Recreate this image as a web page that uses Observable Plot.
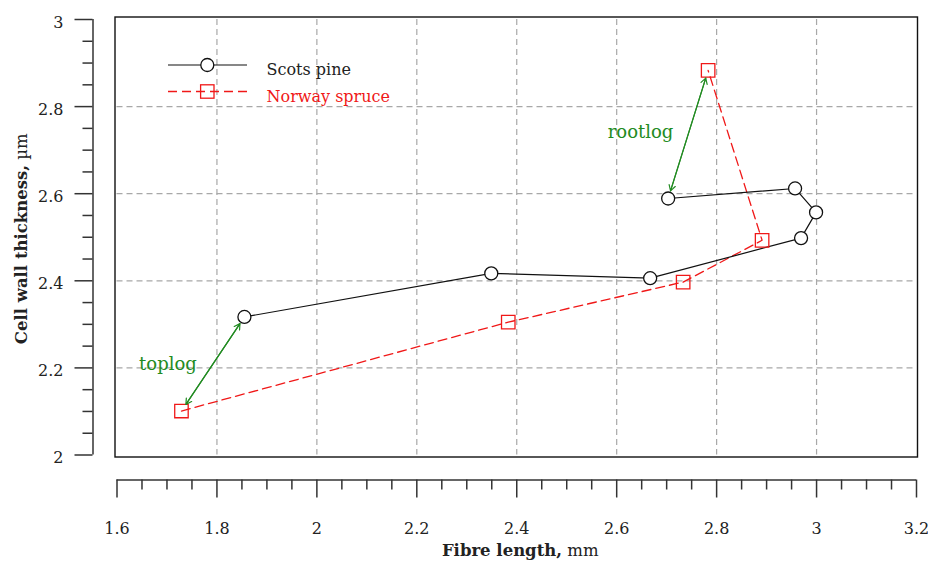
<!DOCTYPE html>
<html><head><meta charset="utf-8">
<script src="https://cdn.jsdelivr.net/npm/d3@7"></script>
<script src="https://cdn.jsdelivr.net/npm/@observablehq/plot@0.6"></script>
<style>body{margin:0;background:#fff}</style>
</head><body><div id="chart"></div>
<script>
// Data
const seriesNames = ["Scots pine", "Norway spruce"];
const pineX = [1.855, 2.349, 2.667, 2.969, 2.999, 2.957, 2.703];
const pineY = [2.317, 2.417, 2.406, 2.498, 2.557, 2.612, 2.589];
const spruceX = [1.729, 2.383, 2.733, 2.891, 2.783];
const spruceY = [2.101, 2.305, 2.397, 2.493, 2.883];
const annotationNames = ["toplog", "rootlog"];
const xTicks = [1.6, 1.8, 2, 2.2, 2.4, 2.6, 2.8, 3, 3.2];
const yTicks = [2, 2.2, 2.4, 2.6, 2.8, 3];
const xGrid = [1.8, 2, 2.2, 2.4, 2.6, 2.8, 3];
const yGrid = [2.2, 2.4, 2.6, 2.8];
const xMinor = d3.range(33).filter(i => i % 4 !== 0).map(i => 1.6 + i * 0.05);
const yMinor = d3.range(21).filter(i => i % 4 !== 0).map(i => 2 + i * 0.05);
const xTitle = ["Fibre length,", " mm"];
const yTitle = ["Cell wall thickness,", " µm"];

const pine = pineX.map((x, i) => ({x, y: pineY[i]}));
const spruce = spruceX.map((x, i) => ({x, y: spruceY[i]}));
const arrows = [
  {name: annotationNames[0], x1: spruceX[0], y1: spruceY[0], x2: pineX[0], y2: pineY[0]},
  {name: annotationNames[1], x1: spruceX[spruceX.length - 1], y1: spruceY[spruceY.length - 1], x2: pineX[pineX.length - 1], y2: pineY[pineY.length - 1]}
];
arrows.forEach(a => { a.mx = (a.x1 + a.x2) / 2; a.my = (a.y1 + a.y2) / 2; });

const RED = "#f01818", BLACK = "#111", GREEN = "#228b22", AXIS = "#333";
const fmt = d => String(+d.toFixed(2));

function decorations(index, scales, values, dimensions) {
  const {width, height, marginLeft, marginTop, marginRight, marginBottom} = dimensions;
  const g = d3.create("svg:g");
  const cx = (marginLeft + width - marginRight) / 2;
  const cy = (marginTop + height - marginBottom) / 2;
  const xt = g.append("text").attr("x", cx + 4).attr("y", 556).attr("text-anchor", "middle")
    .attr("font-size", 16.5).attr("fill", "#222");
  xt.append("tspan").attr("font-weight", "bold").text(xTitle[0]);
  xt.append("tspan").text(xTitle[1]);
  const yt = g.append("text").attr("transform", `translate(27,${cy + 2}) rotate(-90)`).attr("text-anchor", "middle")
    .attr("font-size", 16.5).attr("fill", "#222");
  yt.append("tspan").attr("font-weight", "bold").text(yTitle[0]);
  yt.append("tspan").text(yTitle[1]);
  // legend
  const lx0 = marginLeft + 51.5, lx1 = marginLeft + 130.5, mx = marginLeft + 90.8, tx = marginLeft + 150;
  const ly = [marginTop + 46, marginTop + 72.5];
  g.append("line").attr("x1", lx0).attr("x2", lx1).attr("y1", ly[0]).attr("y2", ly[0])
    .attr("stroke", BLACK).attr("stroke-width", 1.2);
  g.append("circle").attr("cx", mx).attr("cy", ly[0]).attr("r", 6.5).attr("fill", "white")
    .attr("stroke", BLACK).attr("stroke-width", 1.3);
  g.append("line").attr("x1", lx0).attr("x2", lx1).attr("y1", ly[1]).attr("y2", ly[1])
    .attr("stroke", RED).attr("stroke-width", 1.3).attr("stroke-dasharray", "9,5");
  g.append("rect").attr("x", mx - 6.7).attr("y", ly[1] - 6.7).attr("width", 13.4).attr("height", 13.4)
    .attr("fill", "none").attr("stroke", RED).attr("stroke-width", 1.3);
  g.append("text").attr("x", tx).attr("y", ly[0] + 10).attr("text-anchor", "start").attr("font-size", 16).attr("fill", "#222").text(seriesNames[0]);
  g.append("text").attr("x", tx).attr("y", ly[1] + 10).attr("text-anchor", "start").attr("font-size", 16).attr("fill", RED).text(seriesNames[1]);
  return g.node();
}

const chart = Plot.plot({
  width: 928,
  height: 563,
  marginLeft: 116.5,
  marginRight: 12,
  marginTop: 19,
  marginBottom: 108.5,
  style: {fontFamily: "'DejaVu Serif', serif", fontSize: "15px", color: "#222", background: "white"},
  x: {domain: [1.6, 3.2]},
  y: {domain: [2, 3]},
  marks: [
    Plot.gridX(xGrid, {stroke: "#a8a8a8", strokeOpacity: 1, strokeWidth: 1.2, strokeDasharray: "6,4"}),
    Plot.gridY(yGrid, {stroke: "#a8a8a8", strokeOpacity: 1, strokeWidth: 1.2, strokeDasharray: "6,4"}),
    Plot.frame({stroke: BLACK, strokeWidth: 1.4, insetLeft: -2, insetRight: -1, insetTop: -2.5, insetBottom: -2}),
    // detached axes
    Plot.ruleY([yTicks[0]], {dy: 25, stroke: AXIS, strokeWidth: 1.5}),
    Plot.axisX(xTicks, {anchor: "bottom", dy: 25, tickSize: 18, tickPadding: 25, tickFormat: fmt, stroke: AXIS, strokeWidth: 1.5, label: null, fontSize: 16}),
    Plot.axisX(xMinor, {anchor: "bottom", dy: 25, tickSize: 10, tickFormat: () => "", stroke: AXIS, strokeWidth: 1.5, label: null}),
    Plot.ruleX([xTicks[0]], {dx: -24, stroke: AXIS, strokeWidth: 1.5}),
    Plot.axisY(yTicks, {anchor: "left", dx: -24, tickSize: 18, tickFormat: () => "", stroke: AXIS, strokeWidth: 1.5, label: null}),
    Plot.axisY(yMinor, {anchor: "left", dx: -24, tickSize: 10, tickFormat: () => "", stroke: AXIS, strokeWidth: 1.5, label: null}),
    Plot.axisY(yTicks, {anchor: "left", dx: -24, dy: 3, tickSize: 0, tickPadding: 29.5, tickFormat: fmt, label: null, fontSize: 16}),
    // series
    Plot.line(spruce, {x: "x", y: "y", stroke: RED, strokeWidth: 1.3, strokeDasharray: "9,5"}),
    Plot.line(pine, {x: "x", y: "y", stroke: BLACK, strokeWidth: 1.2}),
    Plot.dot(spruce, {x: "x", y: "y", symbol: "square", r: 7.6, fill: "none", stroke: RED, strokeWidth: 1.3}),
    Plot.dot(pine, {x: "x", y: "y", r: 6.5, fill: "white", stroke: BLACK, strokeWidth: 1.3}),
    // annotations
    Plot.arrow(arrows, {x1: "x1", y1: "y1", x2: "x2", y2: "y2", stroke: GREEN, strokeWidth: 1.2, headLength: 8, insetStart: 8, insetEnd: 8}),
    Plot.arrow(arrows, {x1: "x2", y1: "y2", x2: "x1", y2: "y1", stroke: GREEN, strokeWidth: 1.2, headLength: 8, insetStart: 8, insetEnd: 8}),
    Plot.text([arrows[0]], {x: "mx", y: "my", text: "name", dx: -45, dy: 0.5, fill: GREEN, fontSize: 18}),
    Plot.text([arrows[1]], {x: "mx", y: "my", text: "name", dx: -47.6, dy: -2.5, fill: GREEN, fontSize: 18}),
    decorations
  ]
});
document.getElementById("chart").appendChild(chart);
</script>
</body></html>
